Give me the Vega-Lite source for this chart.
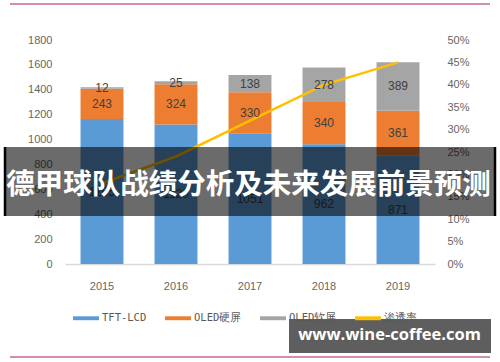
{
  "$schema": "https://vega.github.io/schema/vega-lite/v6.json",
  "width": 370,
  "height": 224,
  "autosize": "none",
  "padding": {"left": 65, "top": 40, "right": 65, "bottom": 98},
  "background": "white",
  "config": {"view": {"stroke": null}, "font": "Liberation Sans"},
  "datasets": {
    "shipments": [
      {"year": "2015", "type": "TFT-LCD", "value": 1165},
      {"year": "2015", "type": "OLED硬屏", "value": 243},
      {"year": "2015", "type": "OLED软屏", "value": 12},
      {"year": "2016", "type": "TFT-LCD", "value": 1120},
      {"year": "2016", "type": "OLED硬屏", "value": 324},
      {"year": "2016", "type": "OLED软屏", "value": 25},
      {"year": "2017", "type": "TFT-LCD", "value": 1051},
      {"year": "2017", "type": "OLED硬屏", "value": 330},
      {"year": "2017", "type": "OLED软屏", "value": 138},
      {"year": "2018", "type": "TFT-LCD", "value": 962},
      {"year": "2018", "type": "OLED硬屏", "value": 340},
      {"year": "2018", "type": "OLED软屏", "value": 278},
      {"year": "2019", "type": "TFT-LCD", "value": 871},
      {"year": "2019", "type": "OLED硬屏", "value": 361},
      {"year": "2019", "type": "OLED软屏", "value": 389}
    ],
    "rate": [
      {"year": "2015", "rate": 0.18},
      {"year": "2016", "rate": 0.24},
      {"year": "2017", "rate": 0.32},
      {"year": "2018", "rate": 0.40},
      {"year": "2019", "rate": 0.45}
    ]
  },
  "layer": [
    {
      "data": {"name": "shipments"},
      "transform": [
        {"calculate": "indexof(['TFT-LCD','OLED硬屏','OLED软屏'], datum.type)", "as": "ord"},
        {"stack": "value", "groupby": ["year"], "sort": [{"field": "ord", "order": "ascending"}], "as": ["y0", "y1"]}
      ],
      "mark": {"type": "bar"},
      "encoding": {
        "x": {
          "field": "year", "type": "ordinal",
          "scale": {"paddingInner": 0.42, "paddingOuter": 0.21},
          "axis": {"title": null, "labelAngle": 0, "domain": true, "domainColor": "#d9d9d9", "domainWidth": 1.5, "ticks": false, "labelPadding": 16, "labelColor": "#666666", "labelFontSize": 11}
        },
        "y": {
          "field": "y0", "type": "quantitative",
          "scale": {"domain": [0, 1800]},
          "axis": {"title": null, "values": [0, 200, 400, 600, 800, 1000, 1200, 1400, 1600, 1800], "format": "d", "domain": false, "ticks": false, "grid": false, "labelColor": "#666666", "labelFontSize": 11, "labelPadding": 13}
        },
        "y2": {"field": "y1"},
        "color": {
          "field": "type", "type": "nominal",
          "scale": {"domain": ["TFT-LCD", "OLED硬屏", "OLED软屏", "渗透率"], "range": ["#5b9bd5", "#ed7d31", "#a5a5a5", "#ffc000"]},
          "legend": {"orient": "none", "legendX": 8, "legendY": 265, "direction": "horizontal", "title": null, "symbolType": "M-1,-0.15H1V0.15H-1Z", "symbolSize": 676, "symbolStrokeWidth": 0, "symbolOpacity": 1, "labelFont": "DejaVu Sans Mono", "labelFontSize": 10.5, "labelColor": "#595959", "columnPadding": 18, "labelOffset": 3}
        }
      }
    },
    {
      "data": {"name": "rate"},
      "mark": {"type": "line", "color": "#ffc000", "strokeWidth": 2.5},
      "encoding": {
        "x": {"field": "year", "type": "ordinal"},
        "y": {
          "field": "rate", "type": "quantitative",
          "scale": {"domain": [0, 0.5]},
          "axis": {"orient": "right", "title": null, "values": [0, 0.05, 0.1, 0.15, 0.2, 0.25, 0.3, 0.35, 0.4, 0.45, 0.5], "format": ".0%", "domain": false, "ticks": false, "grid": false, "labelColor": "#666666", "labelFontSize": 11, "labelPadding": 12}
        }
      }
    },
    {
      "data": {"name": "shipments"},
      "transform": [
        {"calculate": "indexof(['TFT-LCD','OLED硬屏','OLED软屏'], datum.type)", "as": "ord"},
        {"stack": "value", "groupby": ["year"], "sort": [{"field": "ord", "order": "ascending"}], "as": ["y0", "y1"]},
        {"calculate": "(datum.y0 + datum.y1) / 2", "as": "ymid"}
      ],
      "mark": {"type": "text", "fontSize": 12, "color": "#404040", "baseline": "middle"},
      "encoding": {
        "x": {"field": "year", "type": "ordinal"},
        "y": {"field": "ymid", "type": "quantitative", "scale": {"domain": [0, 1800]}, "axis": null},
        "text": {"field": "value", "type": "quantitative"}
      }
    },
    {
      "data": {"values": [{}]},
      "mark": {"type": "rule", "color": "#d38bb2", "strokeWidth": 2},
      "encoding": {"x": {"value": -55}, "x2": {"value": 425}, "y": {"value": -36}}
    },
    {
      "data": {"values": [{}]},
      "mark": {"type": "rule", "color": "#d38bb2", "strokeWidth": 2},
      "encoding": {"x": {"value": -55}, "x2": {"value": 425}, "y": {"value": 317}}
    },
    {
      "data": {"values": [{}]},
      "mark": {"type": "rect", "color": "#000000", "opacity": 0.58},
      "encoding": {"x": {"value": -60}, "x2": {"value": 430}, "y": {"value": 107}, "y2": {"value": 176}}
    },
    {
      "data": {"values": [{}]},
      "mark": {"type": "rule", "color": "#000000", "strokeWidth": 2.5},
      "encoding": {"x": {"value": -60}, "y": {"value": 107}, "y2": {"value": 176}}
    },
    {
      "data": {"values": [{}]},
      "mark": {"type": "rule", "color": "#000000", "strokeWidth": 2.5},
      "encoding": {"x": {"value": 430}, "y": {"value": 107}, "y2": {"value": 176}}
    },
    {
      "data": {"values": [{"label": "德甲球队战绩分析及未来发展前景预测"}]},
      "mark": {"type": "text", "font": "Noto Sans CJK SC", "fontWeight": "bold", "fontSize": 28.5, "color": "#ffffff", "align": "center", "baseline": "middle"},
      "encoding": {"x": {"value": 183.5}, "y": {"value": 145}, "text": {"field": "label"}}
    },
    {
      "data": {"values": [{}]},
      "mark": {"type": "rect", "color": "#3a3a3a", "opacity": 0.82},
      "encoding": {"x": {"value": 224}, "x2": {"value": 426}, "y": {"value": 279}, "y2": {"value": 313}}
    },
    {
      "data": {"values": [{"label": "www.wine-coffee.com"}]},
      "mark": {"type": "text", "font": "Open Sans", "fontWeight": "bold", "fontSize": 16.5, "color": "#ffffff", "align": "center", "baseline": "middle"},
      "encoding": {"x": {"value": 324.5}, "y": {"value": 295}, "text": {"field": "label"}}
    }
  ],
  "resolve": {"scale": {"y": "independent"}}
}
